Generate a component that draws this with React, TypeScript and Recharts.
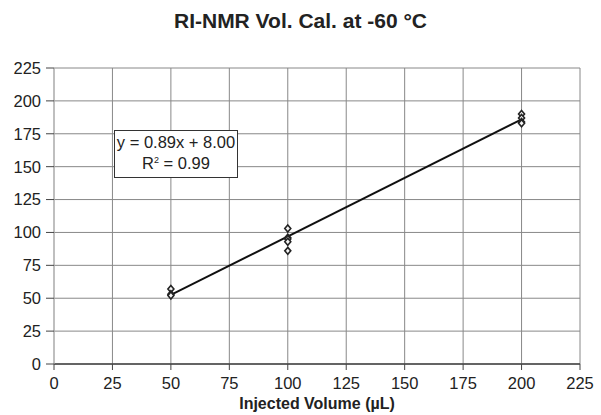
import React from "react";
import { ScatterChart, Scatter, XAxis, YAxis, CartesianGrid } from "recharts";

// measured points (injected volume vs. integrated signal)
const volumes = [50, 50, 50, 100, 100, 100, 100, 100, 200, 200, 200, 200];
const signals = [57, 53, 52, 103, 96, 95, 93, 86, 190, 187, 184, 183];

// linear fit endpoints
const fitVolumes = [50, 200];
const fitSignals = [52.5, 186];

const axisTicks = [0, 25, 50, 75, 100, 125, 150, 175, 200, 225];

const points = volumes.map((v, i) => ({ x: v, y: signals[i] }));
const fit = fitVolumes.map((v, i) => ({ x: v, y: fitSignals[i] }));

const font = "'Liberation Sans', Arial, sans-serif";

const Diamond = (props: any) => {
  const { cx, cy } = props;
  if (cx == null || cy == null) return <g />;
  return (
    <path
      d={`M${cx},${cy - 3.5} L${cx + 3},${cy} L${cx},${cy + 3.5} L${cx - 3},${cy} Z`}
      fill="#f4f4f4"
      stroke="#222"
      strokeWidth={1.6}
    />
  );
};

const NoDot = () => <g />;

export default function App() {
  return (
    <div style={{ position: "absolute", left: 0, top: 0, width: 601, height: 415, background: "#fff", fontFamily: font }}>
      <div
        style={{
          position: "absolute",
          left: 0,
          width: 601,
          top: 9,
          textAlign: "center",
          fontWeight: "bold",
          fontSize: 21,
          color: "#222",
        }}
      >
        RI-NMR Vol. Cal. at -60 °C
      </div>
      <ScatterChart width={601} height={415} margin={{ top: 68, right: 21, bottom: 21, left: 0 }}>
        <CartesianGrid stroke="#888" strokeWidth={1} />
        <XAxis
          type="number"
          dataKey="x"
          domain={[0, 225]}
          ticks={axisTicks}
          interval={0}
          height={30}
          tickSize={6}
          tickMargin={7}
          axisLine={{ stroke: "#444", strokeWidth: 1.5 }}
          tickLine={{ stroke: "#444" }}
          tick={{ fill: "#222", fontSize: 16.5, fontFamily: font }}
        />
        <YAxis
          type="number"
          dataKey="y"
          domain={[0, 225]}
          ticks={axisTicks}
          interval={0}
          width={54}
          tickSize={8}
          tickMargin={5}
          axisLine={{ stroke: "#bbb" }}
          tickLine={{ stroke: "#444" }}
          tick={{ fill: "#222", fontSize: 16.5, fontFamily: font }}
        />
        <Scatter
          data={fit}
          line={{ stroke: "#111", strokeWidth: 2 }}
          shape={NoDot}
          isAnimationActive={false}
        />
        <Scatter data={points} shape={Diamond} isAnimationActive={false} />
      </ScatterChart>
      <div
        style={{
          position: "absolute",
          left: 54,
          width: 526,
          top: 395,
          textAlign: "center",
          fontWeight: "bold",
          fontSize: 16,
          color: "#222",
        }}
      >
        Injected Volume (µL)
      </div>
      <div
        style={{
          position: "absolute",
          left: 114,
          top: 130,
          width: 122,
          height: 45,
          border: "1px solid #333",
          background: "#fff",
          textAlign: "center",
          fontSize: 16.5,
          lineHeight: "21px",
          color: "#222",
          paddingTop: 1,
          boxSizing: "content-box",
        }}
      >
        <div>y = 0.89x + 8.00</div>
        <div>
          R<sup style={{ fontSize: 9, verticalAlign: "6px", lineHeight: 0 }}>2</sup> = 0.99
        </div>
      </div>
    </div>
  );
}
